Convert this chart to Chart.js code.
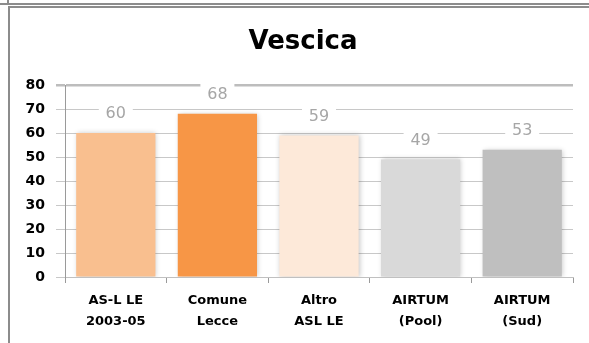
<!DOCTYPE html>
<html>
<head>
<meta charset="utf-8">
<script src="https://cdn.jsdelivr.net/npm/chart.js@4"></script>
<style>
  html, body { margin: 0; padding: 0; background: #fff; }
  .wrap { position: relative; width: 589px; height: 343px; overflow: hidden; }
  .frame-top { position: absolute; left: 0; top: 3px; width: 589px; height: 0; border-top: 2px solid #8c8c8c; }
  .frame-top-left { position: absolute; left: 7px; top: 0; width: 0; height: 4px; border-left: 2px solid #8c8c8c; }
  .frame { position: absolute; left: 8px; top: 6px; width: 600px; height: 400px; border-left: 2px solid #8c8c8c; border-top: 2px solid #8c8c8c; }
  canvas { position: absolute; left: 0; top: 0; }
</style>
</head>
<body>
<div class="wrap">
  <div class="frame-top"></div>
  <div class="frame-top-left"></div>
  <div class="frame"></div>
  <canvas id="chart" width="589" height="343"></canvas>
</div>
<script>
// chart data
const categories = [['AS-L LE', '2003-05'], ['Comune', 'Lecce'], ['Altro', 'ASL LE'], ['AIRTUM', '(Pool)'], ['AIRTUM', '(Sud)']];
const values = [60, 68, 59, 49, 53];
const barColors = ['#f9bf8f', '#f79646', '#fde9d9', '#d9d9d9', '#bfbfbf'];
const chartTitle = 'Vescica';

// the title sits centred on the (wider) outer frame, not on the canvas
const TITLE_X = 303;
const TITLE_Y = 42;

const frameTitle = {
  id: 'frameTitle',
  afterDraw(chart) {
    const ctx = chart.ctx;
    ctx.save();
    ctx.font = 'bold 26px "DejaVu Sans"';
    ctx.fillStyle = '#000';
    ctx.textAlign = 'center';
    ctx.textBaseline = 'middle';
    ctx.fillText(chartTitle, TITLE_X, TITLE_Y);
    ctx.restore();
  }
};

// bar shadow
const barShadow = {
  id: 'barShadow',
  beforeDatasetDraw(chart) {
    const ctx = chart.ctx;
    ctx.save();
    ctx.shadowColor = 'rgba(0,0,0,0.22)';
    ctx.shadowBlur = 5;
    ctx.shadowOffsetX = 1;
    ctx.shadowOffsetY = 0;
  },
  afterDatasetDraw(chart) {
    chart.ctx.restore();
  }
};

// value labels with white box behind
const valueLabels = {
  id: 'valueLabels',
  afterDatasetsDraw(chart) {
    const ctx = chart.ctx;
    const meta = chart.getDatasetMeta(0);
    ctx.save();
    ctx.font = '16px "DejaVu Sans"';
    ctx.textAlign = 'center';
    ctx.textBaseline = 'middle';
    meta.data.forEach((bar, i) => {
      const x = bar.x;
      const y = bar.y - 19;
      ctx.fillStyle = '#ffffff';
      ctx.fillRect(x - 17, y - 12, 34, 24);
      ctx.fillStyle = '#a6a6a6';
      ctx.fillText(String(values[i]), x, y);
    });
    ctx.restore();
  }
};

new Chart(document.getElementById('chart'), {
  type: 'bar',
  data: {
    labels: categories,
    datasets: [{
      data: values,
      backgroundColor: barColors,
      borderWidth: 0,
      barPercentage: 0.78,
      categoryPercentage: 1.0
    }]
  },
  options: {
    responsive: false,
    animation: false,
    layout: { padding: { top: 85, right: 16, left: 0, bottom: 0 } },
    plugins: {
      legend: { display: false },
      tooltip: { enabled: false },
      title: { display: false }
    },
    scales: {
      x: {
        afterFit(s) { s.height = 66; },
        grid: {
          drawOnChartArea: false,
          drawTicks: true,
          tickLength: 6,
          color: '#9a9a9a'
        },
        border: { color: '#c0c0c0', width: 1 },
        ticks: {
          color: '#000',
          padding: 7,
          maxRotation: 0,
          font: { family: 'DejaVu Sans', size: 13, weight: 'bold', lineHeight: 1.6 }
        }
      },
      y: {
        min: 0,
        max: 80,
        afterFit(s) { s.width = 65; },
        grid: {
          color: ctx => ctx.tick && ctx.tick.value === 80 ? '#bdbdbd' : '#c8c8c8',
          lineWidth: ctx => ctx.tick && ctx.tick.value === 80 ? 2.5 : 1,
          tickLength: 9
        },
        border: { color: '#9a9a9a', width: 1 },
        ticks: {
          stepSize: 10,
          color: '#000',
          padding: 11,
          font: { family: 'DejaVu Sans', size: 14, weight: 'bold' }
        }
      }
    }
  },
  plugins: [barShadow, valueLabels, frameTitle]
});
</script>
</body>
</html>
